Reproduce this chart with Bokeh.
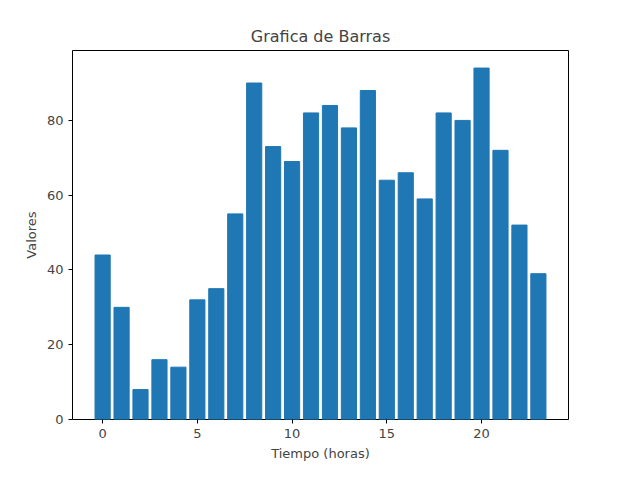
from bokeh.plotting import figure
from bokeh.models import Range1d, SingleIntervalTicker
from bokeh.embed import file_html
from bokeh.resources import INLINE

horas = list(range(24))
valores = [44, 30, 8, 16, 14, 32, 35, 55, 90, 73, 69, 82, 84, 78, 88, 64, 66, 59, 82, 80, 94, 72, 52, 39]

p = figure(width=624, height=464, output_backend="svg", toolbar_location=None,
           title="Grafica de Barras", x_range=Range1d(-1.59, 24.59), y_range=Range1d(0, 98.7),
           min_border_left=72, min_border_right=56, min_border_top=50, min_border_bottom=45)
p.vbar(x=horas, top=valores, width=0.8, color="#1f77b4")

p.title.align = "center"
p.title.text_font = "DejaVu Sans"
p.title.text_font_size = "16px"
p.title.text_font_style = "normal"
p.xaxis.axis_label = "Tiempo (horas)"
p.yaxis.axis_label = "Valores"
p.xaxis.ticker = SingleIntervalTicker(interval=5)
p.yaxis.ticker = SingleIntervalTicker(interval=20)
for ax in (p.xaxis, p.yaxis):
    ax.axis_label_text_font = "DejaVu Sans"
    ax.axis_label_text_font_size = "13px"
    ax.axis_label_text_font_style = "normal"
    ax.major_label_text_font = "DejaVu Sans"
    ax.major_label_text_font_size = "13px"
    ax.minor_tick_line_color = None
    ax.major_tick_out = 4
    ax.major_tick_in = 0
    ax.axis_line_color = None
p.xgrid.visible = False
p.ygrid.visible = False
p.outline_line_color = "black"
p.outline_line_alpha = 1

open("out.html", "w").write(file_html(p, INLINE))
